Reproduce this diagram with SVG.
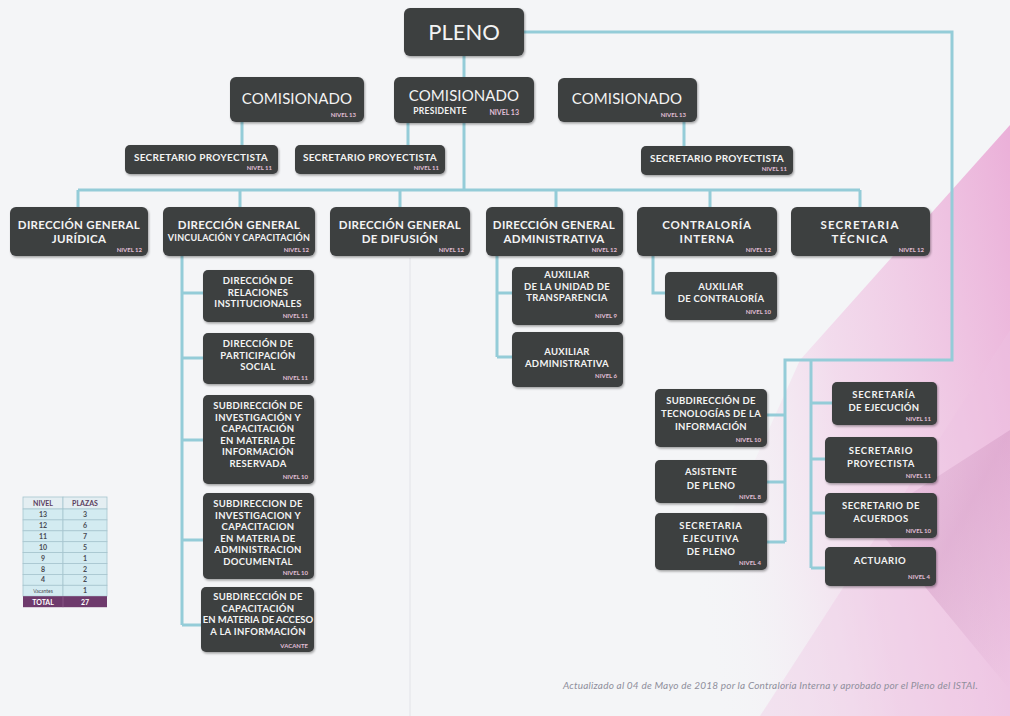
<svg xmlns="http://www.w3.org/2000/svg" width="1010" height="716" viewBox="0 0 1010 716">
<defs>
<linearGradient id="pink" x1="1" y1="0" x2="0" y2="0.3">
<stop offset="0" stop-color="#e9a3d3" stop-opacity="0.85"/>
<stop offset="0.55" stop-color="#f1c6e4" stop-opacity="0.55"/>
<stop offset="1" stop-color="#f4f4f7" stop-opacity="0"/>
</linearGradient>
<linearGradient id="band" x1="0" y1="0" x2="1" y2="1">
<stop offset="0" stop-color="#c98ab8" stop-opacity="0"/>
<stop offset="0.5" stop-color="#c98ab8" stop-opacity="0.35"/>
<stop offset="1" stop-color="#c98ab8" stop-opacity="0"/>
</linearGradient>
<filter id="sh" x="-10%" y="-10%" width="120%" height="130%">
<feDropShadow dx="1" dy="1.5" stdDeviation="1.2" flood-color="#000" flood-opacity="0.35"/>
</filter>
<style>
.bx{fill:#3d3f40;filter:url(#sh)}
.t{font-family:Lato,"Open Sans","Liberation Sans",sans-serif;fill:#f3f3f3;text-anchor:middle;font-weight:700}
.t11{font-size:11.5px;letter-spacing:0.3px}
.t10{font-size:10px;letter-spacing:0.3px}
.c{font-size:9.5px;letter-spacing:0.3px}
.t9{font-size:9px;letter-spacing:0.2px}
.big{font-size:15px;font-weight:400;letter-spacing:0.1px}
.nv{font-family:Lato,"Open Sans","Liberation Sans",sans-serif;font-size:6px;font-weight:700;fill:#e0bfd6;text-anchor:end}
.cn{fill:none;stroke:#94ccd8;stroke-width:3}
.tb{font-family:Lato,"Open Sans","Liberation Sans",sans-serif;font-size:7px;font-weight:700;text-anchor:middle;fill:#4a4a52}
.cell{fill:#d3ebf1;stroke:#a7c5cf;stroke-width:0.8}
</style>
</defs>
<rect x="0" y="0" width="1010" height="716" fill="#f4f5f7"/>
<polygon points="1010,125 1010,716 640,716 800,360" fill="url(#pink)"/>
<polygon points="1010,330 1010,716 760,716" fill="#efc2e2" opacity="0.35"/>
<polygon points="870,520 1010,430 1010,690" fill="url(#band)"/>
<line x1="410" y1="258" x2="410" y2="716" stroke="#e2e3e8" stroke-width="1"/>

<g id="connectors">
<path class="cn" d="M464,56 V77"/>
<path class="cn" d="M524,32 H952 V360 H785 V542"/>
<path class="cn" d="M811,360 V568"/>
<path class="cn" d="M785,415 H767 M785,482 H767 M785,542 H767"/>
<path class="cn" d="M811,403 H832 M811,459 H825 M811,513 H825 M811,568 H825"/>
<path class="cn" d="M242,122 V145 M408,123 V145 M684,122 V146"/>
<path class="cn" d="M464,123 V190"/>
<path class="cn" d="M78,190 H860"/>
<path class="cn" d="M78,190 V207 M240,190 V207 M400,190 V207 M556,190 V207 M710,190 V207 M860,190 V207"/>
<path class="cn" d="M182,256 V625 M182,293 H203 M182,358 H203 M182,440 H203 M182,540 H203 M182,625 H203"/>
<path class="cn" d="M497,256 V357 M497,293 H512 M497,357 H512"/>
<path class="cn" d="M653,256 V293 H665"/>
</g>

<g id="pleno"><rect class="bx" x="404" y="8" width="120" height="48" rx="6"/><text class="t" x="464" y="40" style="font-size:22px;font-weight:400">PLENO</text></g>

<g id="comisionado1"><rect class="bx" x="230" y="77" width="134" height="45" rx="6"/><text class="t big" x="297" y="104">COMISIONADO</text><text class="nv" x="356" y="117">NIVEL 13</text></g>
<g id="comisionado-presidente"><rect class="bx" x="394" y="77" width="140" height="46" rx="6"/><text class="t big" x="464" y="101">COMISIONADO</text><text class="t" x="440" y="114" style="font-size:8.5px;letter-spacing:0.3px">PRESIDENTE</text><text class="nv" x="519" y="115" style="font-size:7px">NIVEL 13</text></g>
<g id="comisionado2"><rect class="bx" x="558" y="78" width="139" height="44" rx="6"/><text class="t big" x="627" y="104">COMISIONADO</text><text class="nv" x="686" y="117">NIVEL 13</text></g>

<g id="sp1"><rect class="bx" x="125" y="145" width="153" height="29" rx="5"/><text class="t t10" x="201" y="161">SECRETARIO PROYECTISTA</text><text class="nv" x="272" y="170">NIVEL 11</text></g>
<g id="sp2"><rect class="bx" x="295" y="145" width="150" height="29" rx="5"/><text class="t t10" x="370" y="161">SECRETARIO PROYECTISTA</text><text class="nv" x="439" y="170">NIVEL 11</text></g>
<g id="sp3"><rect class="bx" x="641" y="146" width="152" height="29" rx="5"/><text class="t t10" x="717" y="162">SECRETARIO PROYECTISTA</text><text class="nv" x="787" y="171">NIVEL 11</text></g>

<g id="dg-juridica"><rect class="bx" x="10" y="207" width="138" height="49" rx="6"/><text class="t t11" x="79" y="229">DIRECCIÓN GENERAL</text><text class="t t11" x="79" y="243">JURÍDICA</text><text class="nv" x="142" y="252">NIVEL 12</text></g>
<g id="dg-vinculacion"><rect class="bx" x="163" y="207" width="152" height="49" rx="6"/><text class="t t11" x="239" y="229">DIRECCIÓN GENERAL</text><text class="t t9" x="239" y="241">VINCULACIÓN Y CAPACITACIÓN</text><text class="nv" x="309" y="252">NIVEL 12</text></g>
<g id="dg-difusion"><rect class="bx" x="330" y="207" width="140" height="49" rx="6"/><text class="t t11" x="400" y="229">DIRECCIÓN GENERAL</text><text class="t t11" x="400" y="243">DE DIFUSIÓN</text><text class="nv" x="464" y="252">NIVEL 12</text></g>
<g id="dg-administrativa"><rect class="bx" x="486" y="207" width="137" height="49" rx="6"/><text class="t t11" x="554" y="229">DIRECCIÓN GENERAL</text><text class="t t11" x="554" y="243">ADMINISTRATIVA</text><text class="nv" x="617" y="252">NIVEL 12</text></g>
<g id="contraloria"><rect class="bx" x="637" y="207" width="140" height="49" rx="6"/><text class="t t11" x="707" y="229" style="letter-spacing:0.7px">CONTRALORÍA</text><text class="t t11" x="707" y="243" style="letter-spacing:0.7px">INTERNA</text><text class="nv" x="771" y="252">NIVEL 12</text></g>
<g id="secretaria-tecnica"><rect class="bx" x="791" y="207" width="139" height="49" rx="6"/><text class="t t11" x="860" y="229" style="letter-spacing:1.2px">SECRETARIA</text><text class="t t11" x="860" y="243" style="letter-spacing:1.2px">TÉCNICA</text><text class="nv" x="924" y="252">NIVEL 12</text></g>

<g id="dir-relaciones"><rect class="bx" x="203" y="270" width="111" height="52" rx="5"/><text class="t c" x="258" y="284">DIRECCIÓN DE</text><text class="t c" x="258" y="295.5">RELACIONES</text><text class="t c" x="258" y="307">INSTITUCIONALES</text><text class="nv" x="308" y="318">NIVEL 11</text></g>
<g id="dir-participacion"><rect class="bx" x="203" y="333" width="111" height="51" rx="5"/><text class="t c" x="258" y="347">DIRECCIÓN DE</text><text class="t c" x="258" y="358.5">PARTICIPACIÓN</text><text class="t c" x="258" y="370">SOCIAL</text><text class="nv" x="308" y="380">NIVEL 11</text></g>
<g id="subdir-reservada"><rect class="bx" x="203" y="395" width="111" height="89" rx="5"/><text class="t c" x="258" y="409">SUBDIRECCIÓN DE</text><text class="t c" x="258" y="420.5">INVESTIGACIÓN Y</text><text class="t c" x="258" y="432">CAPACITACIÓN</text><text class="t c" x="258" y="443.5">EN MATERIA DE</text><text class="t c" x="258" y="455">INFORMACIÓN</text><text class="t c" x="258" y="466.5">RESERVADA</text><text class="nv" x="308" y="479">NIVEL 10</text></g>
<g id="subdir-documental"><rect class="bx" x="203" y="493" width="111" height="86" rx="5"/><text class="t c" x="258" y="507">SUBDIRECCION DE</text><text class="t c" x="258" y="518.5">INVESTIGACION Y</text><text class="t c" x="258" y="530">CAPACITACION</text><text class="t c" x="258" y="541.5">EN MATERIA DE</text><text class="t c" x="258" y="553">ADMINISTRACION</text><text class="t c" x="258" y="564.5">DOCUMENTAL</text><text class="nv" x="308" y="575">NIVEL 10</text></g>
<g id="subdir-acceso"><rect class="bx" x="201" y="587" width="113" height="65" rx="5"/><text class="t c" x="258" y="600">SUBDIRECCIÓN DE</text><text class="t c" x="258" y="611.5">CAPACITACIÓN</text><text class="t c" x="258" y="623" style="letter-spacing:0">EN MATERIA DE ACCESO</text><text class="t c" x="258" y="634.5">A LA INFORMACIÓN</text><text class="nv" x="308" y="648">VACANTE</text></g>

<g id="aux-transparencia"><rect class="bx" x="512" y="267" width="111" height="58" rx="5"/><text class="t c" x="567" y="278">AUXILIAR</text><text class="t c" x="567" y="289.5">DE LA UNIDAD DE</text><text class="t c" x="567" y="301">TRANSPARENCIA</text><text class="nv" x="617" y="318">NIVEL 9</text></g>
<g id="aux-administrativa"><rect class="bx" x="512" y="332" width="111" height="55" rx="5"/><text class="t c" x="567" y="355">AUXILIAR</text><text class="t c" x="567" y="367">ADMINISTRATIVA</text><text class="nv" x="617" y="378">NIVEL 6</text></g>
<g id="aux-contraloria"><rect class="bx" x="665" y="272" width="112" height="48" rx="5"/><text class="t c" x="721" y="290">AUXILIAR</text><text class="t c" x="721" y="302">DE CONTRALORÍA</text><text class="nv" x="771" y="314">NIVEL 10</text></g>

<g id="subdir-tecnologias"><rect class="bx" x="655" y="389" width="112" height="58" rx="5"/><text class="t c" x="711" y="404">SUBDIRECCIÓN DE</text><text class="t c" x="711" y="417">TECNOLOGÍAS DE LA</text><text class="t c" x="711" y="430">INFORMACIÓN</text><text class="nv" x="761" y="442">NIVEL 10</text></g>
<g id="asistente-pleno"><rect class="bx" x="655" y="460" width="112" height="43" rx="5"/><text class="t c" x="711" y="475">ASISTENTE</text><text class="t c" x="711" y="489">DE PLENO</text><text class="nv" x="761" y="499">NIVEL 8</text></g>
<g id="secretaria-ejecutiva"><rect class="bx" x="655" y="513" width="112" height="57" rx="5"/><text class="t c" x="711" y="529" style="letter-spacing:0.8px">SECRETARIA</text><text class="t c" x="711" y="542" style="letter-spacing:0.8px">EJECUTIVA</text><text class="t c" x="711" y="555">DE PLENO</text><text class="nv" x="761" y="565">NIVEL 4</text></g>

<g id="secretaria-ejecucion"><rect class="bx" x="832" y="382" width="105" height="43" rx="5"/><text class="t c" x="884" y="398" style="letter-spacing:0.8px">SECRETARÍA</text><text class="t c" x="884" y="411">DE EJECUCIÓN</text><text class="nv" x="931" y="421">NIVEL 11</text></g>
<g id="secretario-proyectista"><rect class="bx" x="825" y="437" width="112" height="46" rx="5"/><text class="t c" x="881" y="454" style="letter-spacing:0.8px">SECRETARIO</text><text class="t c" x="881" y="467" style="letter-spacing:0.5px">PROYECTISTA</text><text class="nv" x="931" y="478">NIVEL 11</text></g>
<g id="secretario-acuerdos"><rect class="bx" x="825" y="493" width="112" height="45" rx="5"/><text class="t c" x="881" y="509" style="letter-spacing:0.5px">SECRETARIO DE</text><text class="t c" x="881" y="522" style="letter-spacing:0.5px">ACUERDOS</text><text class="nv" x="931" y="533">NIVEL 10</text></g>
<g id="actuario"><rect class="bx" x="825" y="547" width="111" height="39" rx="5"/><text class="t c" x="880" y="564" style="letter-spacing:0.5px">ACTUARIO</text><text class="nv" x="930" y="579">NIVEL 4</text></g>

<g id="tabla">
<rect x="23" y="497" width="40" height="12" fill="#e4eef2" stroke="#a7c5cf" stroke-width="0.8"/>
<rect x="63" y="497" width="44" height="12" fill="#e4eef2" stroke="#a7c5cf" stroke-width="0.8"/>
<text class="tb" x="43" y="506" style="fill:#5b3d5e">NIVEL</text>
<text class="tb" x="85" y="506" style="fill:#5b3d5e">PLAZAS</text>
<rect class="cell" x="23" y="509" width="40" height="10.9"/><rect class="cell" x="63" y="509" width="44" height="10.9"/>
<rect class="cell" x="23" y="519.9" width="40" height="10.9"/><rect class="cell" x="63" y="519.9" width="44" height="10.9"/>
<rect class="cell" x="23" y="530.8" width="40" height="10.9"/><rect class="cell" x="63" y="530.8" width="44" height="10.9"/>
<rect class="cell" x="23" y="541.7" width="40" height="10.9"/><rect class="cell" x="63" y="541.7" width="44" height="10.9"/>
<rect class="cell" x="23" y="552.6" width="40" height="10.9"/><rect class="cell" x="63" y="552.6" width="44" height="10.9"/>
<rect class="cell" x="23" y="563.5" width="40" height="10.9"/><rect class="cell" x="63" y="563.5" width="44" height="10.9"/>
<rect class="cell" x="23" y="574.4" width="40" height="10.9"/><rect class="cell" x="63" y="574.4" width="44" height="10.9"/>
<rect class="cell" x="23" y="585.3" width="40" height="10.9"/><rect class="cell" x="63" y="585.3" width="44" height="10.9"/>
<text class="tb" x="43" y="517">13</text><text class="tb" x="85" y="517">3</text>
<text class="tb" x="43" y="528">12</text><text class="tb" x="85" y="528">6</text>
<text class="tb" x="43" y="539">11</text><text class="tb" x="85" y="539">7</text>
<text class="tb" x="43" y="550">10</text><text class="tb" x="85" y="550">5</text>
<text class="tb" x="43" y="561">9</text><text class="tb" x="85" y="561">1</text>
<text class="tb" x="43" y="572">8</text><text class="tb" x="85" y="572">2</text>
<text class="tb" x="43" y="582">4</text><text class="tb" x="85" y="582">2</text>
<text class="tb" x="43" y="593" style="font-size:5px;font-weight:400">Vacantes</text><text class="tb" x="85" y="593">1</text>
<rect x="23" y="596.2" width="84" height="11" fill="#6e3a6c"/>
<line x1="63" y1="596.2" x2="63" y2="607.2" stroke="#8d5a8b" stroke-width="0.8"/>
<text class="tb" x="43" y="605" style="fill:#fff">TOTAL</text><text class="tb" x="85" y="605" style="fill:#fff">27</text>
</g>

<text x="978" y="689" style="font-family:Lato,'Open Sans','Liberation Sans',sans-serif;font-size:10px;font-style:italic;letter-spacing:0.2px;fill:#8f8f9c;text-anchor:end">Actualizado al 04 de Mayo de 2018 por la Contraloría Interna y aprobado por el Pleno del ISTAI.</text>
</svg>
